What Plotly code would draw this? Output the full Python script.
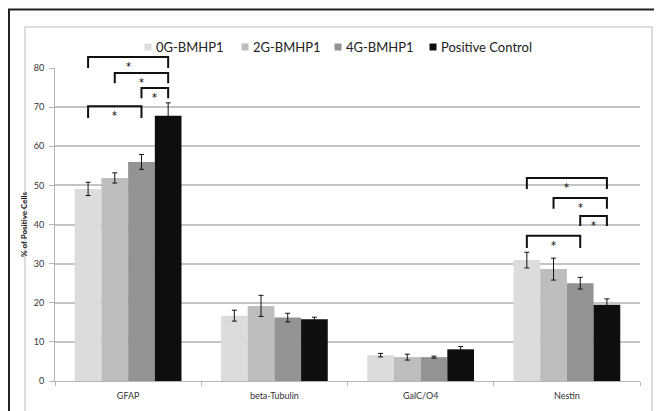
import plotly.graph_objects as go

categories = ["GFAP", "beta-Tubulin", "GalC/O4", "Nestin"]
series_names = ["0G-BMHP1", "2G-BMHP1", "4G-BMHP1", "Positive Control"]
values_0g = [49.1, 16.7, 6.6, 30.9]
values_2g = [51.9, 19.2, 6.1, 28.6]
values_4g = [56.0, 16.2, 6.1, 25.0]
values_pc = [67.8, 15.8, 8.1, 19.5]
err_0g = [1.7, 1.4, 0.45, 2.0]
err_2g = [1.3, 2.7, 0.75, 2.8]
err_4g = [1.9, 1.1, 0.25, 1.5]
err_pc = [3.3, 0.5, 0.7, 1.5]
colors = ["#dcdcdc", "#bdbdbd", "#939393", "#0e0e0e"]
y_ticks = [0, 10, 20, 30, 40, 50, 60, 70, 80]

# significance brackets: (category index, from series, to series, top y, leg bottom y)
brackets = [
    (0, 0, 3, 82.8, 80.0),
    (0, 1, 3, 78.7, 76.1),
    (0, 2, 3, 74.9, 72.3),
    (0, 0, 2, 70.2, 67.2),
    (3, 0, 3, 51.9, 49.1),
    (3, 1, 3, 46.8, 44.0),
    (3, 2, 3, 42.2, 39.6),
    (3, 0, 2, 37.1, 34.0),
]

BARGAP = 0.27
Y_MAX = 80
values = [values_0g, values_2g, values_4g, values_pc]
errors = [err_0g, err_2g, err_4g, err_pc]

# layout geometry (pixels); the page body adds an 8px offset
OFF = 8
W, H = 662 - OFF, 411 - OFF
ML, MR, MT, MB = 55 - OFF, 22, 68 - OFF, 30
PW, PH = W - ML - MR, H - MT - MB

def px_to_paper_x(px):
    return (px - OFF - ML) / PW

def px_to_paper_y(py):
    return (H - MB - (py - OFF)) / PH

fig = go.Figure()
for name, vals, errs, col in zip(series_names, values, errors, colors):
    fig.add_trace(go.Bar(
        name=name, x=categories, y=vals, marker=dict(color=col, line=dict(width=0)),
        error_y=dict(type="data", array=errs, color="#111111", thickness=1, width=2.5),
        showlegend=False,
    ))

bar_w = (1 - BARGAP) / 4

def bar_center(cat, s):
    return cat + (s - 1.5) * bar_w

shapes = []
annotations = []
for cat, s0, s1, top, bottom in brackets:
    x0 = bar_center(cat, s0)
    x1 = bar_center(cat, s1)
    t, b = top / Y_MAX, bottom / Y_MAX
    shapes.append(dict(type="path", xref="x", yref="y domain",
                       path=f"M {x0},{b} L {x0},{t} L {x1},{t} L {x1},{b}",
                       line=dict(color="#111111", width=2)))
    annotations.append(dict(x=(x0 + x1) / 2, y=(top - 2.4) / Y_MAX, xref="x", yref="y domain", text="*",
                            showarrow=False, font=dict(size=10, color="#000000", family="DejaVu Sans"),
                            yanchor="middle"))

# legend (drawn manually to match the compact Excel-style legend)
legend_sq_px = [148, 245, 338, 433]
legend_y_px = 47
for name, col, sx in zip(series_names, colors, legend_sq_px):
    shapes.append(dict(type="rect", xref="paper", yref="paper",
                       x0=px_to_paper_x(sx - 3.5), x1=px_to_paper_x(sx + 3.5),
                       y0=px_to_paper_y(legend_y_px + 3.5), y1=px_to_paper_y(legend_y_px - 3.5),
                       fillcolor=col, line=dict(width=0)))
    annotations.append(dict(x=px_to_paper_x(sx + 6), y=px_to_paper_y(legend_y_px), xref="paper", yref="paper",
                            text=name, showarrow=False, xanchor="left", yanchor="middle",
                            font=dict(size=13, color="#222222")))

# outer and inner frames
shapes.append(dict(type="rect", xref="paper", yref="paper",
                   x0=px_to_paper_x(25), x1=px_to_paper_x(652), y0=px_to_paper_y(480), y1=px_to_paper_y(27),
                   line=dict(color="#d2d2d2", width=1.5), layer="below"))
shapes.append(dict(type="rect", xref="paper", yref="paper",
                   x0=px_to_paper_x(9), x1=px_to_paper_x(720), y0=px_to_paper_y(480), y1=px_to_paper_y(9.5),
                   line=dict(color="#222222", width=2), layer="below"))

fig.update_layout(
    width=W, height=H,
    margin=dict(l=ML, r=MR, t=MT, b=MB, autoexpand=False),
    paper_bgcolor="white", plot_bgcolor="white",
    barmode="group", bargap=BARGAP, bargroupgap=0,
    font=dict(family="Lato, Liberation Sans, sans-serif", color="#333333"),
    showlegend=False,
    shapes=shapes, annotations=annotations,
)
fig.update_xaxes(
    type="category", showline=True, linecolor="#b5b5b5", linewidth=1, automargin=False,
    ticks="outside", tickson="boundaries", ticklen=4, tickcolor="#b5b5b5",
    tickfont=dict(size=9, color="#333333"), showgrid=False, ticklabelstandoff=6,
)
fig.update_yaxes(
    range=[0, Y_MAX], tickvals=y_ticks, showline=True, linecolor="#b5b5b5", linewidth=1, automargin=False,
    ticks="outside", ticklen=5, tickcolor="#b5b5b5",
    tickfont=dict(size=9, color="#333333"), ticklabelstandoff=3,
    showgrid=True, gridcolor="#c4c4c4", gridwidth=2, zeroline=False,
    title=dict(text="<b>% of Positive Cells</b>", font=dict(size=8, color="#222222"), standoff=4),
)

fig.write_html("out.html")
